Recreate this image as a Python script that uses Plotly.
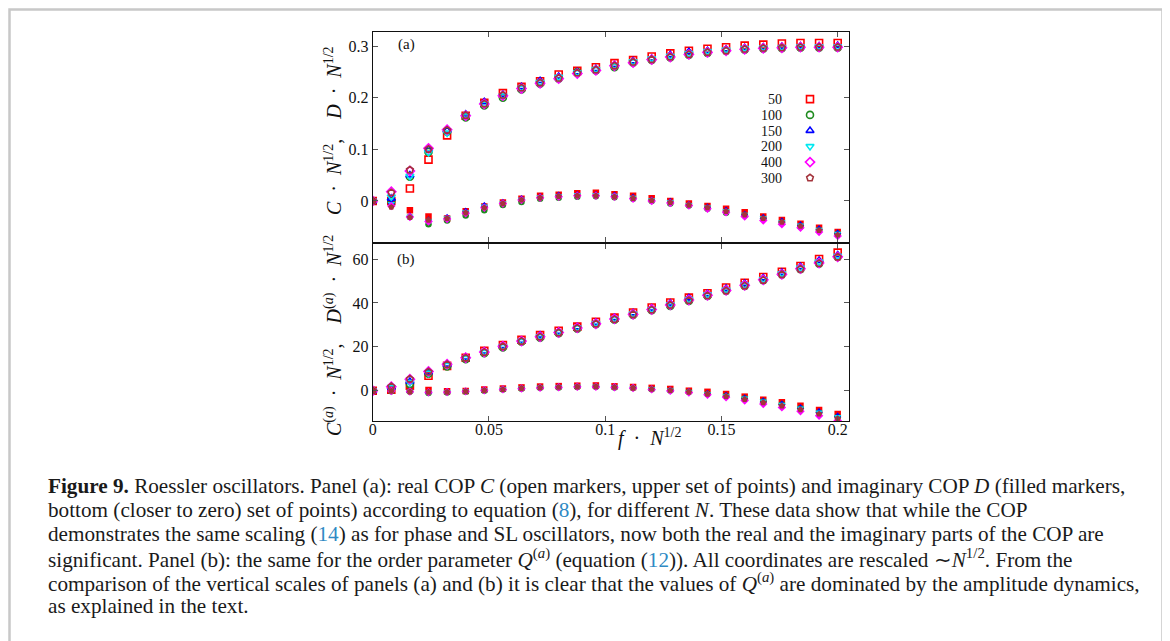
import plotly.graph_objects as go

# ---------------- data ----------------
f_scaled = [0.0, 0.008, 0.016, 0.024, 0.032, 0.040, 0.048, 0.056, 0.064, 0.072, 0.080, 0.088, 0.096,
            0.104, 0.112, 0.120, 0.128, 0.136, 0.144, 0.152, 0.160, 0.168, 0.176, 0.184, 0.192, 0.200]

n_labels = ["50", "100", "150", "200", "400", "300"]

# Panel (a): real COP C * N^1/2 (open markers)
C_50 = [0, 0.000, 0.024, 0.080, 0.127, 0.165, 0.190, 0.209, 0.221, 0.232, 0.245, 0.252, 0.259, 0.267, 0.273, 0.280, 0.286, 0.291, 0.295, 0.298, 0.301, 0.303, 0.305, 0.306, 0.306, 0.306]
C_100 = [0, 0.000, 0.047, 0.095, 0.134, 0.162, 0.185, 0.200, 0.216, 0.227, 0.237, 0.250, 0.253, 0.259, 0.268, 0.273, 0.278, 0.283, 0.287, 0.291, 0.293, 0.295, 0.296, 0.297, 0.297, 0.297]
C_150 = [0, 0.005, 0.050, 0.100, 0.137, 0.168, 0.192, 0.206, 0.221, 0.233, 0.241, 0.250, 0.256, 0.264, 0.271, 0.276, 0.283, 0.289, 0.291, 0.294, 0.297, 0.298, 0.299, 0.300, 0.300, 0.301]
C_200 = [0, 0.008, 0.048, 0.094, 0.132, 0.165, 0.188, 0.204, 0.219, 0.230, 0.240, 0.249, 0.255, 0.262, 0.270, 0.276, 0.281, 0.286, 0.290, 0.293, 0.296, 0.297, 0.298, 0.299, 0.299, 0.299]
C_400 = [0, 0.018, 0.058, 0.102, 0.138, 0.165, 0.188, 0.204, 0.218, 0.228, 0.237, 0.247, 0.253, 0.262, 0.268, 0.274, 0.279, 0.284, 0.288, 0.291, 0.294, 0.296, 0.297, 0.298, 0.298, 0.298]
C_300 = [0, 0.016, 0.060, 0.100, 0.137, 0.166, 0.188, 0.205, 0.219, 0.229, 0.238, 0.248, 0.254, 0.262, 0.269, 0.274, 0.279, 0.284, 0.288, 0.291, 0.294, 0.296, 0.297, 0.298, 0.298, 0.298]

# Panel (a): imaginary COP D * N^1/2 (filled markers)
D_50 = [0, -0.004, -0.018, -0.030, -0.034, -0.020, -0.011, -0.003, 0.004, 0.010, 0.012, 0.015, 0.016, 0.013, 0.010, 0.005, 0.000, -0.005, -0.010, -0.015, -0.022, -0.030, -0.037, -0.044, -0.052, -0.060]
D_100 = [0, -0.008, -0.031, -0.045, -0.038, -0.028, -0.018, -0.008, -0.002, 0.004, 0.006, 0.008, 0.009, 0.007, 0.004, 0.000, -0.005, -0.009, -0.015, -0.023, -0.028, -0.035, -0.042, -0.050, -0.057, -0.064]
D_150 = [0, -0.003, -0.028, -0.036, -0.031, -0.019, -0.008, -0.002, 0.005, 0.009, 0.012, 0.013, 0.013, 0.012, 0.008, 0.003, 0.000, -0.006, -0.011, -0.017, -0.025, -0.031, -0.038, -0.045, -0.053, -0.061]
D_200 = [0, -0.005, -0.030, -0.038, -0.033, -0.021, -0.010, -0.004, 0.003, 0.008, 0.010, 0.012, 0.012, 0.011, 0.007, 0.002, -0.002, -0.007, -0.012, -0.019, -0.026, -0.033, -0.040, -0.047, -0.055, -0.063]
D_400 = [0, -0.010, -0.031, -0.040, -0.035, -0.024, -0.013, -0.005, 0.002, 0.006, 0.008, 0.010, 0.010, 0.008, 0.004, 0.000, -0.004, -0.009, -0.015, -0.022, -0.030, -0.038, -0.045, -0.052, -0.060, -0.068]
D_300 = [0, -0.012, -0.032, -0.037, -0.034, -0.023, -0.013, -0.005, 0.002, 0.006, 0.009, 0.010, 0.010, 0.008, 0.005, 0.001, -0.003, -0.008, -0.013, -0.020, -0.027, -0.034, -0.041, -0.049, -0.057, -0.066]

# Panel (b): C^(a) * N^1/2
CA_50 = [0, 0.5, 2.3, 6.8, 11.3, 15.0, 18.2, 20.8, 23.2, 25.3, 27.3, 29.2, 31.4, 33.3, 35.6, 37.9, 40.2, 42.4, 44.4, 47.0, 49.2, 51.8, 54.2, 56.8, 60.0, 62.9]
CA_100 = [0, 1.2, 3.0, 7.8, 11.0, 14.4, 17.1, 19.7, 22.3, 24.2, 26.2, 28.3, 30.3, 32.3, 34.5, 36.7, 38.6, 40.9, 43.2, 45.5, 47.7, 50.3, 53.0, 55.3, 57.9, 60.9]
CA_150 = [0, 1.6, 4.2, 8.5, 12.0, 15.2, 18.0, 20.5, 22.9, 25.2, 27.0, 29.0, 31.0, 33.2, 35.4, 37.5, 39.8, 42.2, 44.2, 46.5, 48.8, 51.3, 53.8, 56.5, 59.3, 61.8]
CA_200 = [0, 1.5, 3.8, 8.0, 11.6, 14.8, 17.6, 20.2, 22.6, 24.7, 26.6, 28.7, 30.7, 32.8, 35.0, 37.1, 39.3, 41.6, 43.8, 46.0, 48.2, 50.8, 53.4, 56.0, 58.7, 61.3]
CA_400 = [0, 1.8, 5.2, 8.8, 12.1, 15.0, 17.6, 20.3, 22.6, 24.6, 26.5, 28.6, 30.5, 32.7, 34.8, 37.0, 39.1, 41.3, 43.5, 45.7, 48.0, 50.5, 53.0, 55.6, 58.2, 61.0]
CA_300 = [0, 1.9, 5.3, 8.6, 11.9, 14.9, 17.5, 20.1, 22.5, 24.5, 26.4, 28.5, 30.4, 32.5, 34.7, 36.8, 39.0, 41.1, 43.3, 45.5, 47.8, 50.3, 52.9, 55.4, 58.0, 60.9]

# Panel (b): D^(a) * N^1/2
DA_50 = [0, 0.2, 0.3, 0.3, -0.3, -0.1, 0.5, 1.0, 1.5, 1.9, 2.1, 2.3, 2.4, 2.0, 1.7, 1.3, 0.8, 0.0, -0.5, -1.5, -2.7, -4.1, -5.3, -6.8, -8.8, -10.6]
DA_100 = [0, -0.2, -0.4, -1.0, -0.8, -0.5, 0.0, 0.5, 0.9, 1.3, 1.5, 1.7, 1.8, 1.5, 1.2, 0.7, 0.1, -0.6, -1.5, -2.4, -3.5, -4.9, -6.3, -8.0, -10.0, -12.0]
DA_150 = [0, 0.1, -0.2, -0.5, -0.4, 0.0, 0.5, 0.9, 1.3, 1.6, 1.9, 2.1, 2.2, 1.9, 1.5, 1.0, 0.4, -0.3, -1.1, -2.0, -3.1, -4.5, -5.8, -7.5, -9.3, -11.3]
DA_200 = [0, 0.0, -0.3, -0.6, -0.5, -0.2, 0.3, 0.8, 1.2, 1.5, 1.8, 2.0, 2.0, 1.8, 1.4, 0.9, 0.3, -0.5, -1.3, -2.3, -3.4, -4.8, -6.2, -7.9, -9.8, -11.8]
DA_400 = [0, -0.1, -0.4, -0.7, -0.6, -0.3, 0.2, 0.6, 1.0, 1.3, 1.6, 1.8, 1.8, 1.6, 1.2, 0.6, 0.0, -0.8, -1.8, -3.0, -4.5, -6.1, -7.6, -9.4, -11.4, -13.6]
DA_300 = [0, -0.2, -0.5, -0.6, -0.6, -0.3, 0.2, 0.6, 1.1, 1.4, 1.6, 1.8, 1.9, 1.6, 1.2, 0.7, 0.1, -0.6, -1.5, -2.6, -3.9, -5.4, -6.9, -8.6, -10.6, -12.7]

x_tick_vals = [0, 0.05, 0.1, 0.15, 0.2]
x_tick_text = ["0", "0.05", "0.1", "0.15", "0.2"]
ya_tick_vals = [0, 0.1, 0.2, 0.3]
ya_tick_text = ["0", "0.1", "0.2", "0.3"]
yb_tick_vals = [0, 20, 40, 60]
yb_tick_text = ["0", "20", "40", "60"]

C_sets = [C_50, C_100, C_150, C_200, C_400, C_300]
D_sets = [D_50, D_100, D_150, D_200, D_400, D_300]
CA_sets = [CA_50, CA_100, CA_150, CA_200, CA_400, CA_300]
DA_sets = [DA_50, DA_100, DA_150, DA_200, DA_400, DA_300]

# ---------------- styles ----------------
colors = ["#ff0000", "#1e8b1e", "#0000ff", "#00e8f0", "#ff00ff", "#a4343c"]
sym_base = ["square", "circle", "triangle-up", "triangle-down", "diamond", "pentagon"]
SERIF = "Liberation Serif"
INK = "#111111"

# page body has an 8px margin: work in window pixels and convert
OFF = 8
W, H = 1170 - OFF, 641 - OFF


def px_x(p):
    return (p - OFF) / W


def px_y(p):
    return 1 - (p - OFF) / H


fig = go.Figure()

for i, lab in enumerate(n_labels):
    c = colors[i]
    s = sym_base[i]
    fig.add_trace(go.Scatter(x=f_scaled, y=C_sets[i], mode="markers", name=lab,
                             marker=dict(symbol=s + "-open", size=7, color=c, line=dict(width=1.6, color=c)),
                             xaxis="x", yaxis="y", showlegend=False))
    fig.add_trace(go.Scatter(x=f_scaled, y=D_sets[i], mode="markers", name=lab,
                             marker=dict(symbol=s, size=6.5, color=c, line=dict(width=0)),
                             xaxis="x", yaxis="y", showlegend=False))
    fig.add_trace(go.Scatter(x=f_scaled, y=CA_sets[i], mode="markers", name=lab,
                             marker=dict(symbol=s + "-open", size=7, color=c, line=dict(width=1.6, color=c)),
                             xaxis="x2", yaxis="y2", showlegend=False))
    fig.add_trace(go.Scatter(x=f_scaled, y=DA_sets[i], mode="markers", name=lab,
                             marker=dict(symbol=s, size=6.5, color=c, line=dict(width=0)),
                             xaxis="x2", yaxis="y2", showlegend=False))

# key (legend) drawn on a small categorical axis: labels right-aligned, symbols to their right
fig.add_trace(go.Scatter(x=[0] * len(n_labels), y=n_labels, mode="markers", name="N",
                         marker=dict(symbol=[s + "-open" for s in sym_base], size=7, color=colors,
                                     line=dict(width=1.6, color=colors)),
                         xaxis="x3", yaxis="y3", showlegend=False, hoverinfo="y"))

x_dom = [px_x(372.7), px_x(849.3)]
axis_common = dict(showline=True, linecolor=INK, linewidth=1, mirror="ticks", ticks="inside",
                   ticklen=5, tickwidth=1, tickcolor="#555555", showgrid=False, zeroline=False,
                   tickfont=dict(family=SERIF, size=16, color=INK), automargin=False)

fig.update_layout(
    width=W, height=H,
    margin=dict(l=0, r=0, t=0, b=0, autoexpand=False),
    paper_bgcolor="white", plot_bgcolor="white",
    font=dict(family=SERIF, color=INK),
    showlegend=False,
    xaxis=dict(domain=x_dom, anchor="y", range=[0, 0.205], tickvals=x_tick_vals,
               showticklabels=False, **axis_common),
    yaxis=dict(domain=[px_y(241.7), px_y(31.7)], anchor="x", range=[-0.079, 0.328],
               tickvals=ya_tick_vals, ticktext=ya_tick_text, **axis_common),
    xaxis2=dict(domain=x_dom, anchor="y2", range=[0, 0.205], tickvals=x_tick_vals,
                ticktext=x_tick_text, ticklabelstandoff=-6, **axis_common),
    yaxis2=dict(domain=[px_y(421), px_y(244.3)], anchor="x2", range=[-13.8, 66.7],
                tickvals=yb_tick_vals, ticktext=yb_tick_text, **axis_common),
    xaxis3=dict(domain=[px_x(800), px_x(820)], anchor="y3", range=[-1, 1], visible=False,
                fixedrange=True),
    yaxis3=dict(domain=[px_y(187.1), px_y(89.9)], anchor="x3", type="category",
                autorange="reversed", showline=False, showgrid=False, zeroline=False, ticks="",
                tickmode="array", tickvals=n_labels, ticktext=n_labels,
                ticklabelstandoff=17, tickfont=dict(family=SERIF, size=14, color=INK),
                fixedrange=True, automargin=False),
)

ann = []
# panel labels
ann.append(dict(x=px_x(406), y=px_y(44), xref="paper", yref="paper", text="(a)", showarrow=False,
                xanchor="center", yanchor="middle", font=dict(family=SERIF, size=15, color=INK)))
ann.append(dict(x=px_x(406), y=px_y(259), xref="paper", yref="paper", text="(b)", showarrow=False,
                xanchor="center", yanchor="middle", font=dict(family=SERIF, size=15, color=INK)))
# y-axis titles
sp = "\u2002"
ann.append(dict(x=px_x(333), y=px_y(131), xref="paper", yref="paper", textangle=-90, showarrow=False,
                xanchor="center", yanchor="middle",
                text=f"<i>C</i>{sp}·{sp}<i>N</i><sup>1/2</sup>,{sp}{sp}<i>D</i>{sp}·{sp}<i>N</i><sup>1/2</sup>",
                font=dict(family=SERIF, size=20, color=INK)))
ann.append(dict(x=px_x(333), y=px_y(336), xref="paper", yref="paper", textangle=-90, showarrow=False,
                xanchor="center", yanchor="middle",
                text=f"<i>C</i><sup>(<i>a</i>)</sup>{sp}·{sp}<i>N</i><sup>1/2</sup>,{sp}{sp}<i>D</i><sup>(<i>a</i>)</sup>{sp}·{sp}<i>N</i><sup>1/2</sup>",
                font=dict(family=SERIF, size=20, color=INK)))
# x-axis title
ann.append(dict(x=px_x(649), y=px_y(437), xref="paper", yref="paper", showarrow=False,
                xanchor="center", yanchor="middle",
                text=f"<i>f</i>{sp}·{sp}<i>N</i><sup>1/2</sup>",
                font=dict(family=SERIF, size=20, color=INK)))

# caption
blue = "#2f8ac4"
cap_lines = [
    "<b>Figure 9.</b> Roessler oscillators. Panel (a): real COP <i>C</i> (open markers, upper set of points) and imaginary COP <i>D</i> (filled markers,",
    "bottom (closer to zero) set of points) according to equation (<span style='color:%s'>8</span>), for different <i>N</i>. These data show that while the COP" % blue,
    "demonstrates the same scaling (<span style='color:%s'>14</span>) as for phase and SL oscillators, now both the real and the imaginary parts of the COP are" % blue,
    "significant. Panel (b): the same for the order parameter <i>Q</i><sup>(<i>a</i>)</sup> (equation (<span style='color:%s'>12</span>)). All coordinates are rescaled ∼<i>N</i><sup>1/2</sup>. From the" % blue,
    "comparison of the vertical scales of panels (a) and (b) it is clear that the values of <i>Q</i><sup>(<i>a</i>)</sup> are dominated by the amplitude dynamics,",
    "as explained in the text.",
]
cap_y = [486, 510, 534, 558, 582, 606]
for t, yy in zip(cap_lines, cap_y):
    ann.append(dict(x=px_x(46), y=px_y(yy), xref="paper", yref="paper", xanchor="left", yanchor="middle",
                    showarrow=False, align="left", text=t,
                    font=dict(family=SERIF, size=21.2, color="#1a1a1a")))

fig.update_layout(annotations=ann)

# outer light-grey frame of the figure box
fig.add_shape(type="rect", xref="paper", yref="paper", x0=px_x(9.5), x1=px_x(1162.5), y0=-0.2, y1=px_y(9.5),
              line=dict(color="#c8c8c8", width=2.5), fillcolor="rgba(0,0,0,0)", layer="below")

fig.write_html("out.html")
